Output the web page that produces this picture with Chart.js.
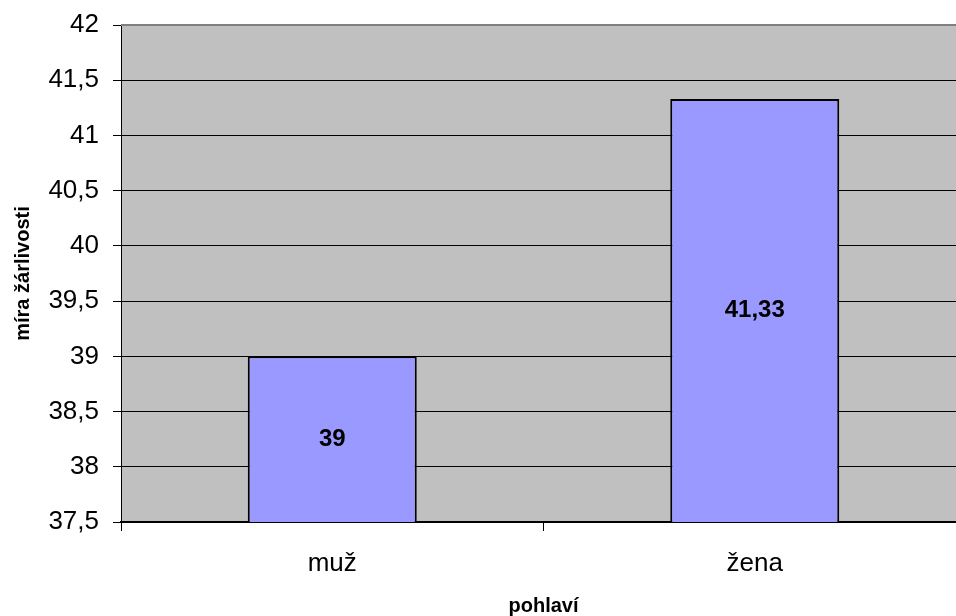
<!DOCTYPE html>
<html>
<head>
<meta charset="utf-8">
<script src="https://cdn.jsdelivr.net/npm/chart.js@4.4.1/dist/chart.umd.min.js"></script>
<style>
  html, body { margin: 0; padding: 0; background: #fff; overflow: hidden; }
  #wrap { position: absolute; left: 0; top: 0; width: 966px; height: 626px; }
</style>
</head>
<body>
<div id="wrap"><canvas id="c"></canvas></div>
<script>
const categories = ['muž', 'žena'];
const values = [39, 41.33];
const valueLabels = ['39', '41,33'];
const yMin = 37.5;
const yMax = 42;
const yStep = 0.5;
const xTitle = 'pohlaví';
const yTitle = 'míra žárlivosti';

const FONT = '"Liberation Sans", Arial, sans-serif';

const plotBg = {
  id: 'plotBg',
  beforeDraw(chart) {
    const a = chart.chartArea, ctx = chart.ctx;
    ctx.save();
    ctx.fillStyle = '#C0C0C0';
    ctx.fillRect(a.left, a.top, a.right - a.left, a.bottom - a.top);
    ctx.restore();
  },
  afterDraw(chart) {
    const a = chart.chartArea, ctx = chart.ctx;
    ctx.save();
    ctx.strokeStyle = '#808080';
    ctx.lineWidth = 2;
    ctx.beginPath();
    ctx.moveTo(a.left, a.top);
    ctx.lineTo(a.right, a.top);
    ctx.stroke();
    // value labels in the middle of each bar
    const xs = chart.scales.x, ys = chart.scales.y;
    ctx.font = 'bold 24px ' + FONT;
    ctx.fillStyle = '#000';
    ctx.textAlign = 'center';
    ctx.textBaseline = 'middle';
    values.forEach((v, i) => {
      const x = xs.getPixelForValue(i);
      const y = (ys.getPixelForValue(v) + ys.getPixelForValue(yMin)) / 2;
      ctx.fillText(valueLabels[i], x, y);
    });
    ctx.restore();
  }
};

new Chart(document.getElementById('c'), {
  type: 'bar',
  data: {
    labels: categories,
    datasets: [{
      data: values,
      backgroundColor: '#9999FF',
      borderColor: '#000000',
      borderWidth: 2,
      borderSkipped: false,
      barPercentage: 0.4,
      categoryPercentage: 1.0
    }]
  },
  options: {
    responsive: true,
    maintainAspectRatio: false,
    animation: false,
    layout: { padding: { top: 25, left: 0, right: 0, bottom: 0 } },
    plugins: { legend: { display: false }, tooltip: { enabled: false } },
    scales: {
      x: {
        offset: true,
        grid: { offset: true, drawOnChartArea: false, drawTicks: true, tickLength: 9, color: '#000' },
        border: { display: true, color: '#000', width: 2 },
        ticks: { color: '#000', padding: 17, font: { family: FONT, size: 26 } },
        title: { display: true, text: xTitle, color: '#000', font: { family: FONT, size: 20, weight: 'bold' }, padding: { top: 0, bottom: 8 } },
        afterFit(scale) { scale.height = 104; scale.paddingLeft = 0; scale.paddingRight = 0; }
      },
      y: {
        min: yMin,
        max: yMax,
        grid: { color: '#000', lineWidth: 1, tickLength: 8, drawTicks: true },
        border: { display: true, color: '#000', width: 1 },
        ticks: {
          stepSize: yStep,
          color: '#000',
          padding: 14,
          font: { family: FONT, size: 26 },
          callback: (v) => String(Number(v.toFixed(1))).replace('.', ',')
        },
        title: { display: true, text: yTitle, color: '#000', font: { family: FONT, size: 20, weight: 'bold' }, padding: { top: 11, bottom: 0 } },
        afterFit(scale) { scale.width = 121; scale.paddingTop = 0; scale.paddingBottom = 0; }
      }
    }
  },
  plugins: [plotBg]
});
</script>
</body>
</html>
